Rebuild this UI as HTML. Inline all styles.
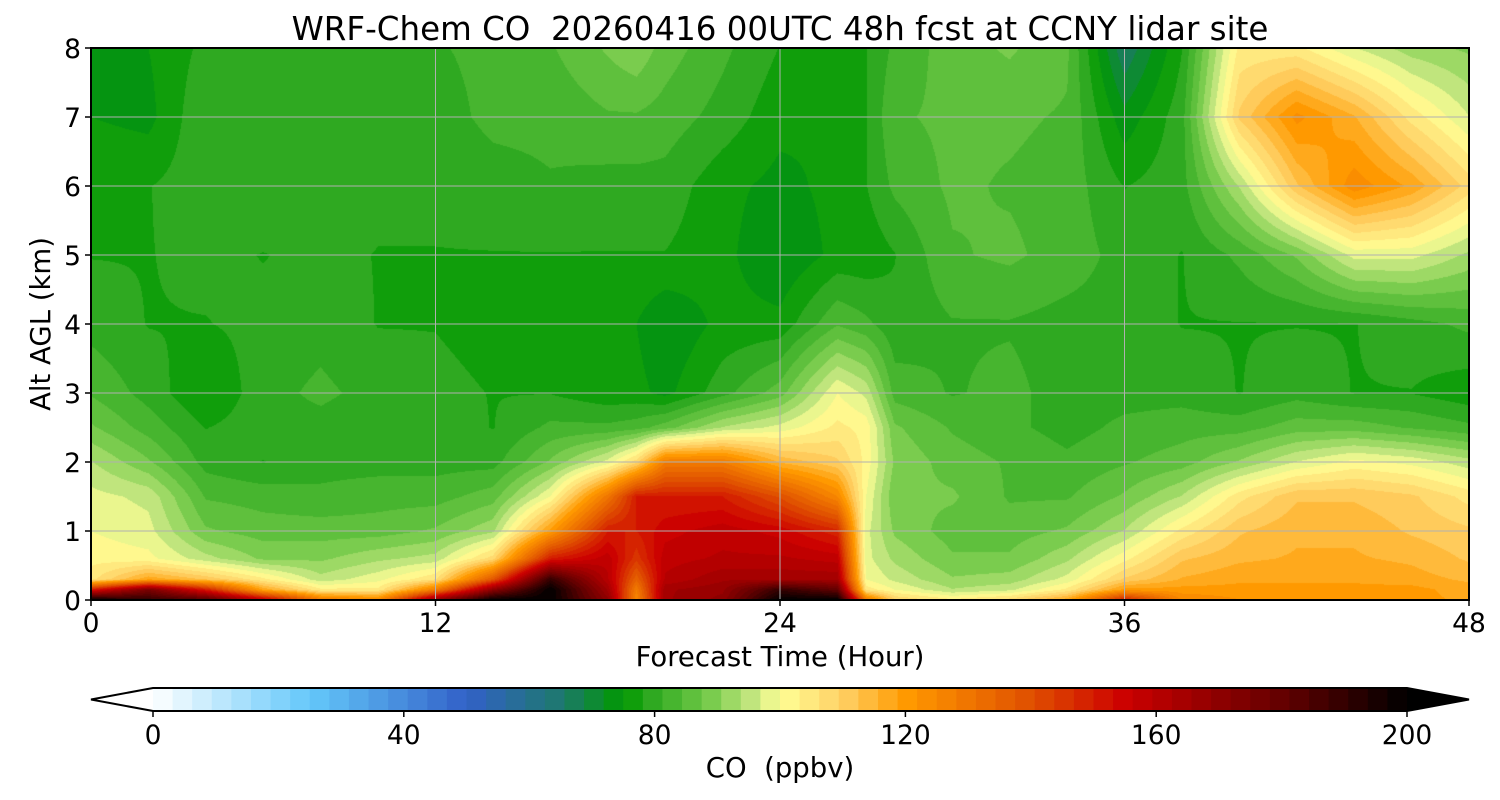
<!DOCTYPE html>
<html><head><meta charset="utf-8">
<style>
body{margin:0;background:#fff;width:1500px;height:800px;overflow:hidden;font-family:"DejaVu Sans","Liberation Sans",sans-serif;}
#wrap{position:relative;width:1500px;height:800px;}
canvas{position:absolute;left:91px;top:48px;}
svg{position:absolute;left:0;top:0;}
</style></head>
<body>
<div id="wrap">
<canvas id="hm" width="1378" height="552"></canvas>
<svg id="ov" width="1500" height="800"></svg>
</div>
<script>
const times=[0,2,4,6,8,10,12,14,16,18,19,20,22,24,26,27,28,30,32,34,36,38,40,42,44,46,48];
const alts=[0,0.15,0.3,0.6,1,1.5,2,2.5,3,4,5,6,7,8];
const coValues=[
[200,150,105,102,100,98,94,88,84,80,78,78,75,75],
[190,175,118,101,98,96,88,83,80,78,78,78,74,75],
[185,150,112,95,88,84,80,78,75,78,79,80,81,79],
[160,118,104,90,86,83,78,80,80,79,78,81,80,80],
[130,104,95,90,86,82,80,80,82,80,79,81,81,79],
[125,104,99,93,86,83,80,79,80,78,78,79,81,80],
[170,128,106,95,88,83,80,80,79,78,78,79,80,81],
[200,170,138,108,93,86,80,78,78,77,78,80,82,82],
[200,200,190,150,120,100,88,82,78,76,78,81,82,84],
[170,165,160,158,150,130,98,82,76,76,78,80,84,88],
[125,128,135,145,150,150,108,83,76,75,78,80,84,90],
[165,165,160,158,155,150,128,86,74,72,78,80,83,86],
[170,168,165,160,158,150,128,94,80,76,76,76,80,82],
[200,190,165,160,155,140,115,98,86,76,72,74,76,78],
[200,180,165,158,148,125,110,104,100,84,76,76,75,77],
[130,105,100,98,98,100,102,102,96,82,76,78,78,78],
[110,100,96,93,90,88,90,88,83,79,78,82,84,82],
[104,94,91,88,86,88,86,84,81,81,84,85,85,86],
[108,96,92,88,86,84,84,82,82,81,85,84,85,88],
[118,104,98,93,88,84,82,80,80,80,83,83,84,85],
[150,120,110,102,94,88,84,82,80,80,80,78,73,66],
[125,120,116,112,104,94,86,83,80,78,78,80,80,78],
[122,120,118,115,112,105,91,83,78,78,82,94,110,104],
[120,120,118,116,115,112,97,86,80,78,88,112,123,104],
[120,120,118,116,115,112,101,86,78,78,98,124,116,97],
[120,120,117,115,112,110,99,84,78,80,98,118,105,92],
[118,117,115,112,110,105,95,82,76,82,93,108,97,90]];
const xTicks=[0,12,24,36,48];
const yTicks=[0,1,2,3,4,5,6,7,8];
const cbTicks=[0,40,80,120,160,200];
const cmapStops=[[0,[255,255,255]],[25,[100,200,250]],[50,[50,96,200]],[65,[30,120,110]],[75,[0,153,0]],[80,[50,170,35]],[88,[110,200,70]],[96,[200,232,130]],[100,[255,255,150]],[110,[255,208,100]],[120,[255,154,0]],[140,[224,80,0]],[155,[204,0,0]],[180,[100,0,0]],[200,[0,0,0]]];
const X0=91,X1=1469,Y0=600,Y1=48;
const xs=t=>X0+(t-0)/48*(X1-X0);
const ys=a=>Y0-(a/8)*(Y0-Y1);
function cmap(v){
 v=Math.max(0,Math.min(200,v));
 for(let i=1;i<cmapStops.length;i++){const [a,ca]=cmapStops[i-1],[b,cb]=cmapStops[i];
  if(v<=b){const f=(v-a)/(b-a);return ca.map((c,k)=>Math.round(c+(cb[k]-c)*f));}}
 return [0,0,0];
}
const step=200/64;
function qcol(v){const lv=Math.min(63,Math.max(0,Math.floor(v/step)));return cmap((lv+0.5)*step);}
function seg(arr,v){for(let i=1;i<arr.length;i++){if(v<=arr[i])return [i-1,(v-arr[i-1])/(arr[i]-arr[i-1])];}return [arr.length-2,1];}
const cv=document.getElementById('hm'),ctx=cv.getContext('2d');
const W=cv.width,H=cv.height,img=ctx.createImageData(W,H);
for(let py=0;py<H;py++){
 const a=(H-0.5-py)/H*8;const [j,fy]=seg(alts,a);
 for(let px=0;px<W;px++){
  const t=(px+0.5)/W*48;const [i,fx]=seg(times,t);
  const v=(coValues[i][j]*(1-fx)+coValues[i+1][j]*fx)*(1-fy)+(coValues[i][j+1]*(1-fx)+coValues[i+1][j+1]*fx)*fy;
  const c=qcol(v),o=(py*W+px)*4;img.data[o]=c[0];img.data[o+1]=c[1];img.data[o+2]=c[2];img.data[o+3]=255;
 }
}
ctx.putImageData(img,0,0);
const NS='http://www.w3.org/2000/svg',svg=document.getElementById('ov');
function el(tag,attrs,txt){const e=document.createElementNS(NS,tag);for(const k in attrs)e.setAttribute(k,attrs[k]);if(txt!==undefined)e.textContent=txt;svg.appendChild(e);return e;}
xTicks.forEach(t=>{
 const g=el('line',{x1:xs(t),x2:xs(t),y1:Y1,y2:Y0,stroke:'#b0b0b0','stroke-width':1});
 
 
 el('line',{x1:xs(t),x2:xs(t),y1:Y0,y2:Y0+6,stroke:'#000','stroke-width':1.5});
 const l=el('text',{x:xs(t),y:Y0+32,'font-size':26.5,'text-anchor':'middle'},String(t));
 
 
});
yTicks.forEach(a=>{
 const g=el('line',{x1:X0,x2:X1,y1:ys(a),y2:ys(a),stroke:'#b0b0b0','stroke-width':1});
 
 
 el('line',{x1:X0-6,x2:X0,y1:ys(a),y2:ys(a),stroke:'#000','stroke-width':1.5});
 const l=el('text',{x:X0-10,y:ys(a)+10,'font-size':26.5,'text-anchor':'end'},String(a));
 
 
});
const fr=el('rect',{x:X0,y:Y1,width:X1-X0,height:Y0-Y1,fill:'none',stroke:'#000','stroke-width':2});


const tt=el('text',{x:780,y:40,'font-size':32.5,'text-anchor':'middle'},'WRF-Chem CO\u00a0 20260416 00UTC 48h fcst at CCNY lidar site');


const xl=el('text',{x:780,y:666,'font-size':27.5,'text-anchor':'middle'},'Forecast Time (Hour)');


const yl=el('text',{x:50,y:324,'font-size':27.5,'text-anchor':'middle',transform:'rotate(-90 50 324)'},'Alt AGL (km)');


const CB0=153,CB1=1407,CT=688,CBH=711;
const cbx=v=>CB0+v/200*(CB1-CB0);
for(let k=0;k<64;k++){
 const c=cmap((k+0.5)*step);
 const r=el('rect',{x:cbx(k*step),y:CT,width:cbx((k+1)*step)-cbx(k*step)+0.6,height:CBH-CT,fill:`rgb(${c})`});
 
 
}
const lt=el('polygon',{points:`${CB0},${CT} 91,${(CT+CBH)/2} ${CB0},${CBH}`,fill:'#fff'});


const rt=el('polygon',{points:`${CB1},${CT} 1469,${(CT+CBH)/2} ${CB1},${CBH}`,fill:'#000'});


const ob=el('polygon',{points:`${CB0},${CT} ${CB1},${CT} 1469,${(CT+CBH)/2} ${CB1},${CBH} ${CB0},${CBH} 91,${(CT+CBH)/2}`,fill:'none',stroke:'#000','stroke-width':2});


cbTicks.forEach(v=>{
 el('line',{x1:cbx(v),x2:cbx(v),y1:CBH,y2:CBH+6,stroke:'#000','stroke-width':1.5});
 const l=el('text',{x:cbx(v),y:744,'font-size':26.5,'text-anchor':'middle'},String(v));
 
 
});
const cl=el('text',{x:780,y:777,'font-size':27.5,'text-anchor':'middle'},'CO\u00a0 (ppbv)');


</script>
</body></html>
